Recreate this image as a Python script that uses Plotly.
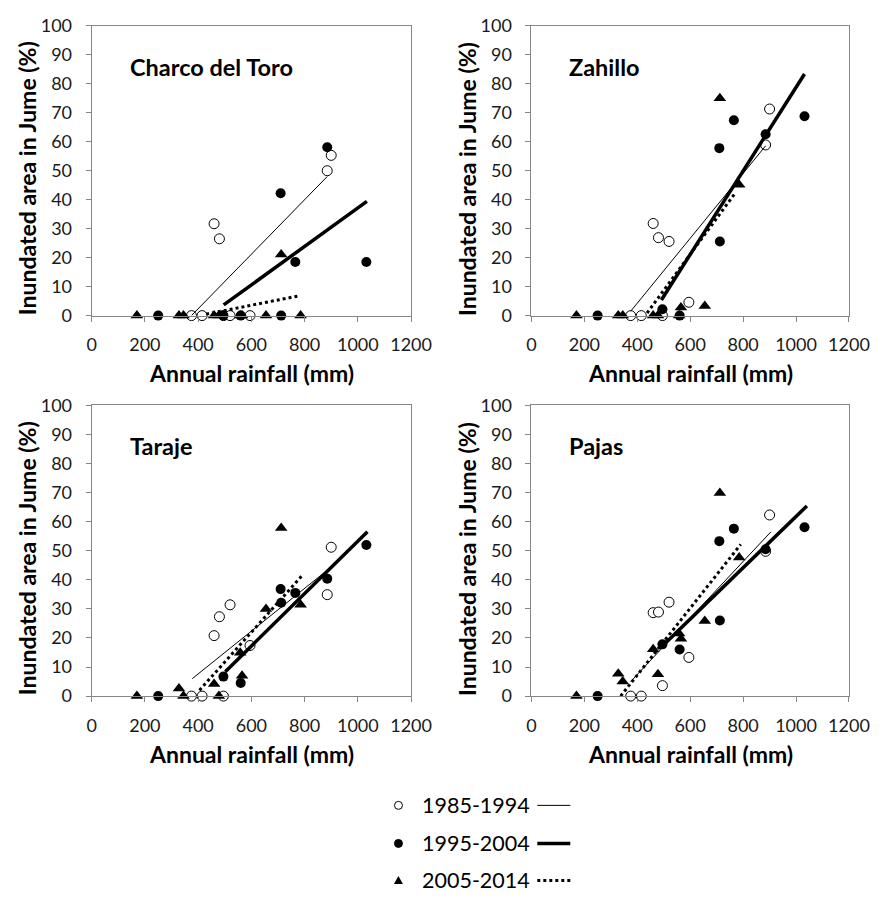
import plotly.graph_objects as go

# annual rainfall (mm) of the years in each period (same for all four sites)
rain_85 = [375, 415, 460, 480, 495, 520, 595, 885, 900]
rain_95 = [250, 495, 560, 710, 712, 765, 885, 1032]
rain_05 = [170, 328, 345, 460, 478, 558, 565, 655, 712, 785]

# inundated area in June (%) per site and period
toro_85 = [0, 0, 31.7, 26.5, 0, 0, 0, 50.0, 55.3]
toro_95 = [0, 0, 0, 42.2, 0, 18.5, 58.1, 18.5]
toro_05 = [0, 0, 0, 0, 0, 0, 0, 0, 21.1, 0]

zahillo_85 = [0, 0, 31.8, 26.9, 0, 25.6, 4.6, 58.9, 71.3]
zahillo_95 = [0, 2.2, 0, 57.8, 25.6, 67.4, 62.6, 68.8]
zahillo_05 = [0, 0, 0, 0, 0, 0, 2.8, 3.3, 75.0, 45.2]

taraje_85 = [0, 0, 20.8, 27.3, 0, 31.4, 17.4, 34.9, 51.2]
taraje_95 = [0, 6.7, 4.5, 36.8, 32.1, 35.5, 40.4, 52.0]
taraje_05 = [0, 2.6, 0, 4.2, 0, 14.9, 7.0, 30.0, 57.8, 31.4]

pajas_85 = [0, 0, 28.7, 28.9, 3.6, 32.3, 13.3, 49.8, 62.3]
pajas_95 = [0, 17.8, 16.0, 53.3, 26.0, 57.6, 50.5, 58.1]
pajas_05 = [0, 7.7, 5.0, 16.1, 7.5, 21.5, 19.7, 25.8, 69.9, 47.7]

# fitted lines: [x start, y start, x end, y end]
toro_fit_85 = [375, 0.0, 885, 48.0]
toro_fit_95 = [496, 3.7, 1034, 39.4]
toro_fit_05 = [430, 0.5, 778, 6.8]

zahillo_fit_85 = [375, 1.5, 885, 58.6]
zahillo_fit_95 = [491, 5.4, 1032, 83.4]
zahillo_fit_05 = [437, 0.9, 771, 42.4]

taraje_fit_85 = [378, 6.0, 885, 43.3]
taraje_fit_95 = [502, 8.4, 1036, 56.5]
taraje_fit_05 = [405, 2.0, 788, 41.2]

pajas_fit_85 = [375, 5.0, 905, 56.5]
pajas_fit_95 = [495, 17.2, 1041, 65.4]
pajas_fit_05 = [337, 0.0, 791, 52.2]

sites = ["Charco del Toro", "Zahillo", "Taraje", "Pajas"]
periods = ["1985-1994", "1995-2004", "2005-2014"]

W, H = 894, 902
OFF = 8  # the page body has an 8px margin, so the figure sits 8px in
FONT = "Lato"
GREY = "#868686"


def px(v):
    return (v - OFF) / W


def py(v):
    return 1 - (v - OFF) / H


# plot areas in page pixels: (left, right, top, bottom)
boxes = [(89, 418, 14, 311), (542, 869, 14, 311),
         (89, 418, 403, 701), (542, 869, 403, 701)]

panels = [
    (toro_85, toro_95, toro_05, toro_fit_85, toro_fit_95, toro_fit_05),
    (zahillo_85, zahillo_95, zahillo_05, zahillo_fit_85, zahillo_fit_95, zahillo_fit_05),
    (taraje_85, taraje_95, taraje_05, taraje_fit_85, taraje_fit_95, taraje_fit_05),
    (pajas_85, pajas_95, pajas_05, pajas_fit_85, pajas_fit_95, pajas_fit_05),
]

marker_85 = dict(symbol="circle", size=10, color="white", line=dict(color="black", width=1))
marker_95 = dict(symbol="circle", size=10, color="black", line=dict(width=0))
marker_05 = dict(symbol="triangle-up", size=11, color="black", line=dict(width=0))
line_85 = dict(color="black", width=1)
line_95 = dict(color="black", width=3.5)
line_05 = dict(color="black", width=3, dash="dot")

fig = go.Figure()
layout = {}
annotations = []

for i, (y85, y95, y05, f85, f95, f05) in enumerate(panels):
    n = i + 1
    sfx = "" if n == 1 else str(n)
    xa, ya = "x" + sfx, "y" + sfx
    l, r, t, b = boxes[i]

    for xs, ys, mk in [(rain_85, y85, marker_85), (rain_95, y95, marker_95), (rain_05, y05, marker_05)]:
        fig.add_trace(go.Scatter(x=xs, y=ys, mode="markers", marker=mk, xaxis=xa, yaxis=ya,
                                 cliponaxis=False, showlegend=False))
    for f, ln in [(f85, line_85), (f95, line_95), (f05, line_05)]:
        fig.add_trace(go.Scatter(x=[f[0], f[2]], y=[f[1], f[3]], mode="lines", line=ln,
                                 xaxis=xa, yaxis=ya, showlegend=False))

    layout["xaxis" + sfx] = dict(
        domain=[px(l), px(r)], anchor=ya, range=[0, 1200], dtick=200, tick0=0,
        showline=True, linecolor=GREY, linewidth=1, mirror=True, ticks="outside",
        ticklen=5, tickcolor=GREY, showgrid=False, zeroline=False,
        tickfont=dict(family=FONT, size=18, color="#1a1a1a"), ticklabelstandoff=8)
    layout["yaxis" + sfx] = dict(
        domain=[py(b), py(t)], anchor=xa, range=[0, 100], dtick=10, tick0=0,
        showline=True, linecolor=GREY, linewidth=1, mirror=True, ticks="outside",
        ticklen=5, tickcolor=GREY, showgrid=False, zeroline=False,
        tickfont=dict(family=FONT, size=18, color="#1a1a1a"), ticklabelstandoff=10)

    annotations.append(dict(text=sites[i], x=px(l + 37), y=py(t + 42),
                            xref="paper", yref="paper", xanchor="left", yanchor="middle",
                            showarrow=False, font=dict(family=FONT, size=23.5, color="black", weight="bold")))
    annotations.append(dict(text="Annual rainfall (mm)", x=px((l + r) / 2), y=py(b + 59),
                            xref="paper", yref="paper", xanchor="center", yanchor="middle",
                            showarrow=False, font=dict(family=FONT, size=23, color="black", weight="bold")))
    annotations.append(dict(text="Inundated area in Jume (%)", x=px(l - 67), y=py((t + b) / 2 + 8),
                            xref="paper", yref="paper", xanchor="center", yanchor="middle", textangle=-90,
                            showarrow=False, font=dict(family=FONT, size=23, color="black", weight="bold")))

# hand-made legend below the panels
shapes = []
rows = [813, 852, 890]
for k, period in enumerate(periods):
    yc = py(rows[k])
    annotations.append(dict(text=period, x=px(427), y=yc, xref="paper", yref="paper",
                            xanchor="left", yanchor="middle", showarrow=False,
                            font=dict(family=FONT, size=21.5, color="black")))
    if k == 2:
        shapes.append(dict(type="path", xref="paper", yref="paper", xsizemode="pixel", ysizemode="pixel",
                           xanchor=px(405), yanchor=yc, path="M -4.5 -3.5 L 4.5 -3.5 L 0 4.5 Z",
                           fillcolor="black", line=dict(width=0)))
    else:
        shapes.append(dict(type="circle", xref="paper", yref="paper", xsizemode="pixel", ysizemode="pixel",
                           xanchor=px(405), yanchor=yc, x0=-4, x1=4, y0=-4, y1=4,
                           fillcolor="white" if k == 0 else "black", line=dict(color="black", width=1)))
    ln = [line_85, line_95, line_05][k]
    shapes.append(dict(type="line", xref="paper", yref="paper", x0=px(548), x1=px(582), y0=yc, y1=yc,
                       line=dict(color="black", width=ln["width"], dash=ln.get("dash", "solid"))))

fig.update_layout(
    width=W, height=H, margin=dict(l=0, r=0, t=0, b=0),
    paper_bgcolor="white", plot_bgcolor="white",
    annotations=annotations, shapes=shapes, **layout)

fig.write_html("out.html")
